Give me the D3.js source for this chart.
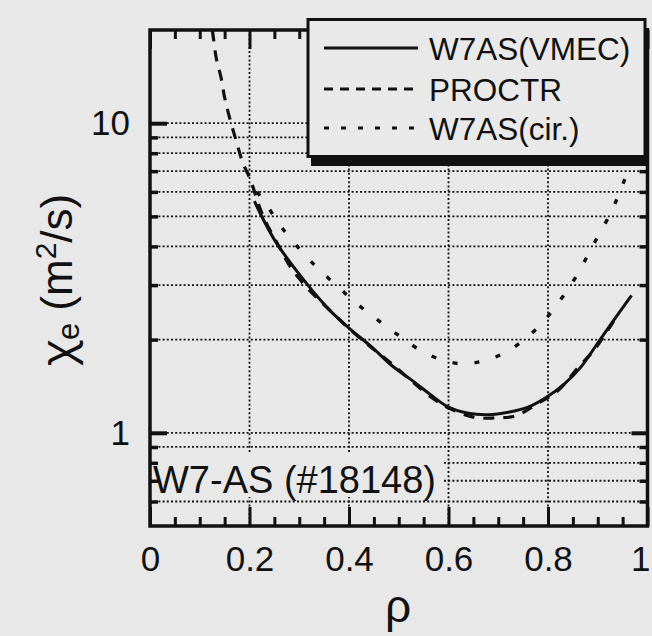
<!DOCTYPE html>
<html>
<head>
<meta charset="utf-8">
<script src="https://cdn.jsdelivr.net/npm/d3@7"></script>
<style>
html, body { margin: 0; padding: 0; background: #e8e8e8; }
svg { display: block; font-family: "Liberation Sans", Arial, Helvetica, sans-serif; }
</style>
</head>
<body>
<div id="chart"></div>
<script>
// values: rho vs chi_e (m^2/s)
const rhoVmec = [0.21, 0.22, 0.253, 0.313, 0.36, 0.40, 0.446, 0.486, 0.526, 0.566, 0.60, 0.64, 0.68, 0.72, 0.76, 0.796, 0.833, 0.866, 0.90, 0.933, 0.968]
const chiVmec = [5.6, 5.17, 4.13, 3.06, 2.50, 2.18, 1.89, 1.65, 1.48, 1.32, 1.21, 1.156, 1.144, 1.165, 1.21, 1.30, 1.44, 1.63, 1.95, 2.32, 2.78]

const rhoProctr = [0.115, 0.124, 0.133, 0.143, 0.150, 0.160, 0.173, 0.186, 0.203, 0.216, 0.23, 0.26, 0.283, 0.316, 0.36, 0.403, 0.446, 0.484, 0.566, 0.603, 0.653, 0.693, 0.736, 0.776, 0.82, 0.86, 0.896, 0.923, 0.94]
const chiProctr = [23, 20.4, 16.3, 14.0, 12.1, 10.4, 8.8, 7.5, 6.5, 5.6, 4.9, 3.98, 3.42, 2.94, 2.50, 2.15, 1.88, 1.68, 1.30, 1.197, 1.121, 1.117, 1.136, 1.234, 1.37, 1.62, 1.88, 2.18, 2.4]

const rhoCir = [0.215, 0.23, 0.26, 0.293, 0.333, 0.373, 0.416, 0.46, 0.504, 0.543, 0.586, 0.63, 0.672, 0.712, 0.756, 0.795, 0.828, 0.854, 0.881, 0.901, 0.925, 0.943, 0.96, 0.98]
const chiCir = [6.0, 5.58, 4.72, 4.05, 3.45, 3.01, 2.61, 2.30, 2.04, 1.85, 1.72, 1.67, 1.71, 1.81, 2.02, 2.33, 2.73, 3.15, 3.77, 4.33, 5.09, 5.92, 6.99, 8.6]

const seriesNames = ['W7AS(VMEC)', 'PROCTR', 'W7AS(cir.)']

const xMajorTicks = [0, 0.2, 0.4, 0.6, 0.8, 1]
const xTickLabels = ['0', '0.2', '0.4', '0.6', '0.8', '1']
const xMinorTicks = [0.05, 0.1, 0.15, 0.25, 0.3, 0.35, 0.45, 0.5, 0.55, 0.65, 0.7, 0.75, 0.85, 0.9, 0.95]
const xGrid = [0.2, 0.4, 0.6, 0.8]

const yMajorTicks = [1, 10]
const yTickLabels = ['1', '10']
const yMinorTicks = [0.6, 0.7, 0.8, 0.9, 2, 3, 4, 5, 6, 7, 8, 9]
const yGrid = [0.6, 0.7, 0.8, 0.9, 1, 2, 3, 4, 5, 6, 7, 8, 9, 10]

const shotLabel = 'W7-AS (#18148)'

const W = 652, H = 636
const margin = {top: 30, right: 4.5, bottom: 110, left: 150}
const width = W - margin.left - margin.right
const height = H - margin.top - margin.bottom
const ink = '#111'
const paper = '#e8e8e8'

const x = d3.scaleLinear().domain([0, 1]).range([0, width])
const y = d3.scaleLog().domain([0.5, 20]).range([height, 0])

const svg = d3.select('#chart').append('svg')
    .attr('width', W).attr('height', H)

svg.append('rect').attr('width', W).attr('height', H).attr('fill', paper)

svg.append('defs').append('clipPath').attr('id', 'plotclip')
    .append('rect').attr('width', width).attr('height', height)

const main = svg.append('g')
    .attr('transform', 'translate(' + margin.left + ',' + margin.top + ')')

// dotted grid
const grid = main.append('g').attr('class', 'grid')
    .attr('stroke', ink).attr('stroke-width', 1.8).attr('stroke-dasharray', '2,2.2')
grid.selectAll('line.h').data(yGrid).enter().append('line')
    .attr('x1', 0).attr('x2', width)
    .attr('y1', d => y(d)).attr('y2', d => y(d))
grid.selectAll('line.v').data(xGrid).enter().append('line')
    .attr('x1', d => x(d)).attr('x2', d => x(d))
    .attr('y1', 0).attr('y2', height)

// label box covers the grid in the lower left
main.append('rect')
    .attr('x', 0).attr('y', 422).attr('width', 294).attr('height', 45)
    .attr('fill', paper)
main.append('text')
    .attr('x', 3).attr('y', 463)
    .attr('font-size', 38).attr('fill', ink)
    .text(shotLabel)

// curves
const line = d3.line()
    .x(d => x(d[0])).y(d => y(d[1]))
    .curve(d3.curveCatmullRom)

const curves = main.append('g').attr('clip-path', 'url(#plotclip)')
    .attr('fill', 'none').attr('stroke', ink)

curves.append('path')
    .datum(d3.zip(rhoVmec, chiVmec))
    .attr('d', line).attr('stroke-width', 3)
curves.append('path')
    .datum(d3.zip(rhoProctr, chiProctr))
    .attr('d', line).attr('stroke-width', 3.2).attr('stroke-dasharray', '11,9')
curves.append('path')
    .datum(d3.zip(rhoCir, chiCir))
    .attr('d', line).attr('stroke-width', 3.4).attr('stroke-dasharray', '5,17')

// ticks, all pointing inward
const tickStyle = (g, w) => {
    g.select('.domain').remove()
    g.selectAll('.tick line').attr('stroke', ink).attr('stroke-width', w)
}

main.append('g').call(d3.axisBottom(x).tickValues(xMinorTicks).tickSize(-9).tickFormat(''))
    .attr('transform', 'translate(0,' + height + ')').call(tickStyle, 3)
main.append('g').call(d3.axisTop(x).tickValues(xMinorTicks).tickSize(-9).tickFormat(''))
    .call(tickStyle, 3)
main.append('g').call(d3.axisTop(x).tickValues(xMajorTicks).tickSize(-19).tickFormat(''))
    .call(tickStyle, 3)
const xAxis = main.append('g')
    .attr('transform', 'translate(0,' + height + ')')
    .call(d3.axisBottom(x).tickValues(xMajorTicks).tickSize(-19).tickPadding(20)
        .tickFormat((d, i) => xTickLabels[i]))
    .call(tickStyle, 3)
xAxis.selectAll('text').attr('font-size', 35).attr('fill', ink)
    .attr('font-family', '"Liberation Sans", Arial, sans-serif')
// last label sits at the page edge
xAxis.selectAll('text').filter(d => d === 1).attr('text-anchor', 'end').attr('x', 2.5)

main.append('g').call(d3.axisLeft(y).tickValues(yMinorTicks).tickSize(-8).tickFormat(''))
    .call(tickStyle, 3.5)
main.append('g')
    .attr('transform', 'translate(' + width + ',0)')
    .call(d3.axisRight(y).tickValues(yMinorTicks).tickSize(-8).tickFormat(''))
    .call(tickStyle, 3.5)
main.append('g')
    .attr('transform', 'translate(' + width + ',0)')
    .call(d3.axisRight(y).tickValues(yMajorTicks).tickSize(-16).tickFormat(''))
    .call(tickStyle, 4)
main.append('g')
    .call(d3.axisLeft(y).tickValues(yMajorTicks).tickSize(-17).tickPadding(20)
        .tickFormat((d, i) => yTickLabels[i]))
    .call(tickStyle, 4)
    .selectAll('text').attr('font-size', 35).attr('fill', ink)
        .attr('font-family', '"Liberation Sans", Arial, sans-serif')

// frame
main.append('rect')
    .attr('width', width).attr('height', height)
    .attr('fill', 'none').attr('stroke', ink).attr('stroke-width', 3.5)

// legend with drop shadow
const legend = svg.append('g')
legend.append('rect')
    .attr('x', 311).attr('y', 28).attr('width', 338).attr('height', 138)
    .attr('fill', ink)
legend.append('rect')
    .attr('x', 308).attr('y', 19.5).attr('width', 337).attr('height', 137)
    .attr('fill', '#e9e9e9').attr('stroke', ink).attr('stroke-width', 3)

const legendDash = [null, '9,7', '5,12']
const legendRows = [48, 89, 128]
seriesNames.forEach((name, i) => {
    legend.append('line')
        .attr('x1', 324).attr('x2', 418)
        .attr('y1', legendRows[i]).attr('y2', legendRows[i])
        .attr('stroke', ink).attr('stroke-width', 3)
        .attr('stroke-dasharray', legendDash[i])
    legend.append('text')
        .attr('x', 429).attr('y', legendRows[i] + 12)
        .attr('font-size', 31.5).attr('fill', ink)
        .text(name)
})

// axis titles
svg.append('text')
    .attr('x', 398).attr('y', 622)
    .attr('text-anchor', 'middle')
    .attr('font-size', 46).attr('fill', ink)
    .text('ρ')

const ytitle = svg.append('text')
    .attr('transform', 'translate(72,280) rotate(-90)')
    .attr('text-anchor', 'middle')
    .attr('font-size', 44).attr('fill', ink)
ytitle.append('tspan').attr('font-family', '"Noto Sans", "DejaVu Sans", sans-serif').text('χ')
ytitle.append('tspan').attr('font-size', 31).attr('dy', 7).text('e')
ytitle.append('tspan').attr('dy', -7).text(' (m')
ytitle.append('tspan').attr('font-size', 30).attr('dy', -16).text('2')
ytitle.append('tspan').attr('dy', 16).text('/s)')
</script>
</body>
</html>
